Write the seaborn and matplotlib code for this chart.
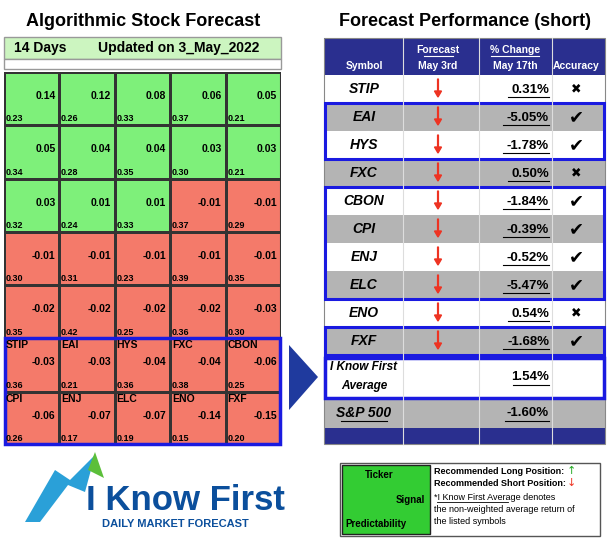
import matplotlib
matplotlib.use("Agg")
import matplotlib.pyplot as plt
import numpy as np
import seaborn as sns
from matplotlib.colors import ListedColormap
from matplotlib.patches import Rectangle, Polygon, FancyArrow

plt.rcParams["font.family"] = "Liberation Sans"

signals = [[0.14, 0.12, 0.08, 0.06, 0.05],
           [0.05, 0.04, 0.04, 0.03, 0.03],
           [0.03, 0.01, 0.01, -0.01, -0.01],
           [-0.01, -0.01, -0.01, -0.01, -0.01],
           [-0.02, -0.02, -0.02, -0.02, -0.03],
           [-0.03, -0.03, -0.04, -0.04, -0.06],
           [-0.06, -0.07, -0.07, -0.14, -0.15]]
predict = [[0.23, 0.26, 0.33, 0.37, 0.21],
           [0.34, 0.28, 0.35, 0.30, 0.21],
           [0.32, 0.24, 0.33, 0.37, 0.29],
           [0.30, 0.31, 0.23, 0.39, 0.35],
           [0.35, 0.42, 0.25, 0.36, 0.30],
           [0.36, 0.21, 0.36, 0.38, 0.25],
           [0.26, 0.17, 0.19, 0.15, 0.20]]
tickers = [[None]*5]*5 + [["STIP", "EAI", "HYS", "FXC", "CBON"],
                          ["CPI", "ENJ", "ELC", "ENO", "FXF"]]

symbols = ["STIP", "EAI", "HYS", "FXC", "CBON", "CPI", "ENJ", "ELC", "ENO", "FXF"]
changes = [0.31, -5.05, -1.78, 0.50, -1.84, -0.39, -0.52, -5.47, 0.54, -1.68]
correct = [False, True, True, False, True, True, True, True, False, True]
avg_change = 1.54
sp500_change = -1.60

W, H = 612, 545
fig = plt.figure(figsize=(W/100, H/100), dpi=100)
bg = fig.add_axes([0, 0, 1, 1])
bg.set_xlim(0, W); bg.set_ylim(H, 0); bg.axis("off")

def fax(x0, y0, x1, y1):
    return fig.add_axes([x0/W, 1-y1/H, (x1-x0)/W, (y1-y0)/H])

# Titles
bg.text(143, 22, "Algorithmic Stock Forecast", ha="center", va="center", fontsize=13, fontweight="bold")
bg.text(465, 22, "Forecast Performance (short)", ha="center", va="center", fontsize=13, fontweight="bold")

# Left header
bg.add_patch(Rectangle((4, 37), 277, 22, facecolor="#ccf5c0", edgecolor="#999999", lw=1))
bg.add_patch(Rectangle((4, 59), 277, 10, facecolor="white", edgecolor="#999999", lw=1))
bg.text(14, 48, "14 Days", va="center", fontsize=10, fontweight="bold")
bg.text(98, 48, "Updated on 3_May_2022", va="center", fontsize=10, fontweight="bold")

# Heatmap grid
hax = fax(4, 72, 281, 445)
sns.heatmap(np.array(signals), ax=hax, cmap=ListedColormap(["#f47a6a", "#7ef07a"]),
            vmin=-0.15, vmax=0.15, cbar=False, linewidths=1, linecolor="#333333",
            xticklabels=False, yticklabels=False)
hax.add_patch(Rectangle((0, 0), 5, 7, fill=False, edgecolor="#333333", lw=1.5))
for r in range(7):
    for c in range(5):
        hax.text(c + 0.93, r + 0.45, f"{signals[r][c]:.2f}", ha="right", va="center", fontsize=7.5, fontweight="bold")
        hax.text(c + 0.03, r + 0.88, f"{predict[r][c]:.2f}", ha="left", va="center", fontsize=6.5, fontweight="bold")
        t = tickers[r][c]
        if t:
            hax.text(c + 0.03, r + 0.13, t, ha="left", va="center", fontsize=7.5, fontweight="bold")
hax.add_patch(Rectangle((0.01, 5), 4.98, 1.98, fill=False, edgecolor="#1a1ae0", lw=2.5, clip_on=False))

# Arrow
bg.add_patch(Polygon([(289, 345), (318, 377), (289, 410)], closed=True, facecolor="#1f3a9e", edgecolor="none"))

# Right table
tx0, tx1 = 324, 605
cols = [324, 403, 479, 552, 605]
bg.add_patch(Rectangle((tx0, 38), tx1-tx0, 37, facecolor="#2a2f8f", edgecolor="none"))
bg.text(364, 66, "Symbol", ha="center", va="center", color="white", fontsize=7.5, fontweight="bold")
bg.text(438, 50, "Forecast", ha="center", va="center", color="white", fontsize=7.5, fontweight="bold")
bg.plot([424, 453], [56, 56], color="white", lw=0.8)
bg.text(438, 66, "May 3rd", ha="center", va="center", color="white", fontsize=7.5, fontweight="bold")
bg.text(515, 50, "% Change", ha="center", va="center", color="white", fontsize=7.5, fontweight="bold")
bg.plot([491, 539], [56, 56], color="white", lw=0.8)
bg.text(515, 66, "May 17th", ha="center", va="center", color="white", fontsize=7.5, fontweight="bold")
bg.text(576, 66, "Accuracy", ha="center", va="center", color="white", fontsize=7.5, fontweight="bold")

rh = 28
y = 75
for i, s in enumerate(symbols):
    fc = "white" if i % 2 == 0 else "#b4b4b4"
    bg.add_patch(Rectangle((tx0, y), tx1-tx0, rh, facecolor=fc, edgecolor="none"))
    cy = y + rh/2
    bg.text(364, cy, s, ha="center", va="center", fontsize=10, fontweight="bold", style="italic")
    bg.add_patch(FancyArrow(438, cy-10, 0, 18, width=0.8, head_width=7, head_length=6,
                            length_includes_head=True, color="#ee3322"))
    bg.text(549, cy+1, f"{changes[i]:.2f}%", ha="right", va="center", fontsize=9.5, fontweight="bold")
    bg.plot([508 if changes[i] >= 0 else 508-5, 549], [cy+8, cy+8], color="black", lw=0.8)
    bg.text(576, cy, "\u2714" if correct[i] else "\u2716", ha="center", va="center",
            fontsize=13 if correct[i] else 9, family="DejaVu Sans")
    y += rh
ytab_end = y
# I Know First Average
bg.add_patch(Rectangle((tx0, y+2), tx1-tx0, 42, facecolor="white", edgecolor="none"))
bg.text(364, y+12, "I Know First", ha="center", va="center", fontsize=8.5, fontweight="bold", style="italic")
bg.text(364, y+31, "Average", ha="center", va="center", fontsize=8.5, fontweight="bold", style="italic")
bg.text(549, y+22, f"{avg_change:.2f}%", ha="right", va="center", fontsize=9.5, fontweight="bold")
bg.plot([513, 549], [y+30, y+30], color="black", lw=0.8)
y2 = y + 44
bg.add_patch(Rectangle((tx0, y2), tx1-tx0, 29, facecolor="#b4b4b4", edgecolor="none"))
bg.text(364, y2+14, "S&P 500", ha="center", va="center", fontsize=10, fontweight="bold", style="italic")
bg.plot([341, 387], [y2+22, y2+22], color="black", lw=0.8)
bg.text(549, y2+14, f"{sp500_change:.2f}%", ha="right", va="center", fontsize=9.5, fontweight="bold")
bg.plot([505, 549], [y2+22, y2+22], color="black", lw=0.8)
y3 = y2 + 29
bg.add_patch(Rectangle((tx0, y3), tx1-tx0, 16, facecolor="#2a2f8f", edgecolor="none"))
for cx in cols[1:-1]:
    bg.plot([cx, cx], [38, y3+16], color="#dddddd", lw=0.8)
bg.add_patch(Rectangle((tx0, 38), tx1-tx0, y3+16-38, fill=False, edgecolor="#888888", lw=0.8))
# Blue group boxes
for a, b in [(1, 3), (4, 8), (9, 10)]:
    bg.add_patch(Rectangle((tx0+1, 75+a*rh), tx1-tx0-2, (b-a)*rh, fill=False, edgecolor="#1a1ae0", lw=2.2))
bg.add_patch(Rectangle((tx0+1, ytab_end+3), tx1-tx0-2, 40, fill=False, edgecolor="#1a1ae0", lw=2.5))

# Logo
bg.add_patch(Polygon([(25, 522), (55, 470), (70, 480), (95, 455), (85, 492), (68, 485), (40, 522)],
                     closed=True, facecolor="#2aa0d8", edgecolor="none"))
bg.add_patch(Polygon([(95, 452), (104, 478), (88, 470)], closed=True, facecolor="#5cbf3a", edgecolor="none"))
bg.text(86, 501, "I Know First", ha="left", va="center", fontsize=25, fontweight="bold", color="#0b4f9c")
bg.text(175, 524, "DAILY MARKET FORECAST", ha="center", va="center", fontsize=8, color="#0b4f9c", fontweight="bold")

# Legend box
bg.add_patch(Rectangle((340, 463), 260, 73, facecolor="white", edgecolor="#555555", lw=1))
bg.add_patch(Rectangle((342, 465), 88, 69, facecolor="#33cc33", edgecolor="#222222", lw=1))
bg.text(365, 475, "Ticker", fontsize=7, fontweight="bold", va="center")
bg.text(425, 500, "Signal", fontsize=7, fontweight="bold", va="center", ha="right")
bg.text(345, 524, "Predictability", fontsize=7, fontweight="bold", va="center")
bg.text(434, 471, "Recommended Long Position:", fontsize=6.5, fontweight="bold", va="center")
bg.text(434, 483, "Recommended Short Position:", fontsize=6.5, fontweight="bold", va="center")
bg.text(567, 471, "\u2191", fontsize=8, color="#22aa22", va="center", family="DejaVu Sans")
bg.text(567, 483, "\u2193", fontsize=8, color="#ee3322", va="center", family="DejaVu Sans")
bg.text(434, 497, "*I Know First Average denotes", fontsize=6.5, va="center")
bg.plot([437, 508], [502, 502], color="black", lw=0.6)
bg.text(434, 510, "the non-weighted average return of", fontsize=6.5, va="center")
bg.text(434, 522, "the listed symbols", fontsize=6.5, va="center")

fig.savefig("out.png", dpi=100)
